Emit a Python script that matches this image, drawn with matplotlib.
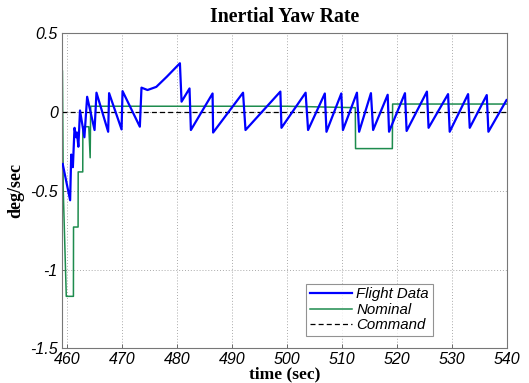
import matplotlib
matplotlib.use("Agg")
import matplotlib.pyplot as plt

# Data
blue_t = [459.15, 460.5, 460.7, 461.0, 461.3, 461.6, 461.75, 462.0, 462.3, 463.1, 463.6,
          464.95, 465.3, 467.43, 467.6, 469.87, 470.05, 473.2, 473.5, 474.6, 476.2,
          478.1, 480.5, 480.8, 482.25, 482.5, 486.45, 486.55, 492.0, 492.45, 498.8,
          499.0, 503.4, 503.85, 506.9, 507.2, 509.9, 510.2, 512.75, 513.15, 515.3,
          515.7, 518.35, 518.6, 521.5, 521.8, 525.5, 525.8, 529.35, 529.65, 533.0,
          533.3, 536.4, 536.7, 540.0]
blue_v = [-0.33, -0.56, -0.27, -0.35, -0.10, -0.16, -0.13, -0.22, 0.01, -0.16, 0.097,
          -0.114, 0.123, -0.125, 0.12, -0.11, 0.133, -0.093, 0.155, 0.14, 0.16,
          0.224, 0.31, 0.066, 0.15, -0.114, 0.118, -0.13, 0.123, -0.114, 0.13,
          -0.1, 0.123, -0.114, 0.118, -0.125, 0.118, -0.114, 0.123, -0.125, 0.12,
          -0.114, 0.11, -0.125, 0.12, -0.12, 0.13, -0.1, 0.114, -0.125, 0.114,
          -0.1, 0.108, -0.125, 0.076]

green_t = [459.1, 459.25, 459.8, 461.1, 461.12, 461.95, 461.97, 462.8, 462.82, 463.9,
           464.15, 464.25, 500.0, 512.45, 512.5, 519.2, 519.25, 540.0]
green_v = [0.26, -0.5, -1.17, -1.17, -0.73, -0.73, -0.38, -0.38, -0.093, -0.093,
           -0.29, 0.037, 0.037, 0.028, -0.232, -0.232, 0.051, 0.051]

cmd_t = [459.0, 540.0]
cmd_v = [0.0, 0.0]

xticks = [460, 470, 480, 490, 500, 510, 520, 530, 540]
yticks = [0.5, 0, -0.5, -1, -1.5]
ytick_labels = ["0.5", "0", "-0.5", "-1", "-1.5"]

fig = plt.figure(figsize=(5.29, 3.83), dpi=100)
ax = fig.add_axes([0.117, 0.0906, 0.8405, 0.8224])

ax.plot(blue_t, blue_v, color="#0000ff", lw=1.6, label="Flight Data", zorder=3)
ax.plot(green_t, green_v, color="#1e8c4e", lw=1.1, label="Nominal", zorder=2)
ax.plot(cmd_t, cmd_v, color="black", lw=0.9, ls=(0, (4, 2.5)), label="Command", zorder=2.5)

ax.set_xlim(459, 540)
ax.set_ylim(-1.5, 0.5)
ax.set_xticks(xticks)
ax.set_yticks(yticks)
ax.set_yticklabels(ytick_labels)

for lab in ax.get_xticklabels() + ax.get_yticklabels():
    lab.set_fontfamily("Liberation Sans")
    lab.set_fontstyle("italic")
    lab.set_fontsize(11.5)

ax.tick_params(direction="in", length=3, width=0.6, colors="#555555", labelcolor="black")
ax.tick_params(axis="x", pad=3)
ax.tick_params(axis="y", pad=3)
ax.grid(True, ls=(0, (1, 2)), color="#aaaaaa", lw=0.7)
for s in ax.spines.values():
    s.set_color("#777777")
    s.set_linewidth(0.8)

ax.set_title("Inertial Yaw Rate", family="Liberation Serif", weight="bold", size=14.3, pad=8)
ax.set_xlabel("time (sec)", family="Liberation Serif", weight="bold", size=12.5, labelpad=-1)
ax.set_ylabel("deg/sec", family="Liberation Serif", weight="bold", size=13, labelpad=4)

leg = ax.legend(loc="lower right", bbox_to_anchor=(0.834, 0.039), borderaxespad=0,
                prop=dict(family="Liberation Sans", style="italic", size=10.8),
                frameon=True, fancybox=False, handlelength=2.8, handletextpad=0.3,
                labelspacing=0.1, borderpad=0.25)
leg.get_frame().set_edgecolor("#777777")
leg.get_frame().set_linewidth(0.8)

fig.savefig("out.png", dpi=100)
